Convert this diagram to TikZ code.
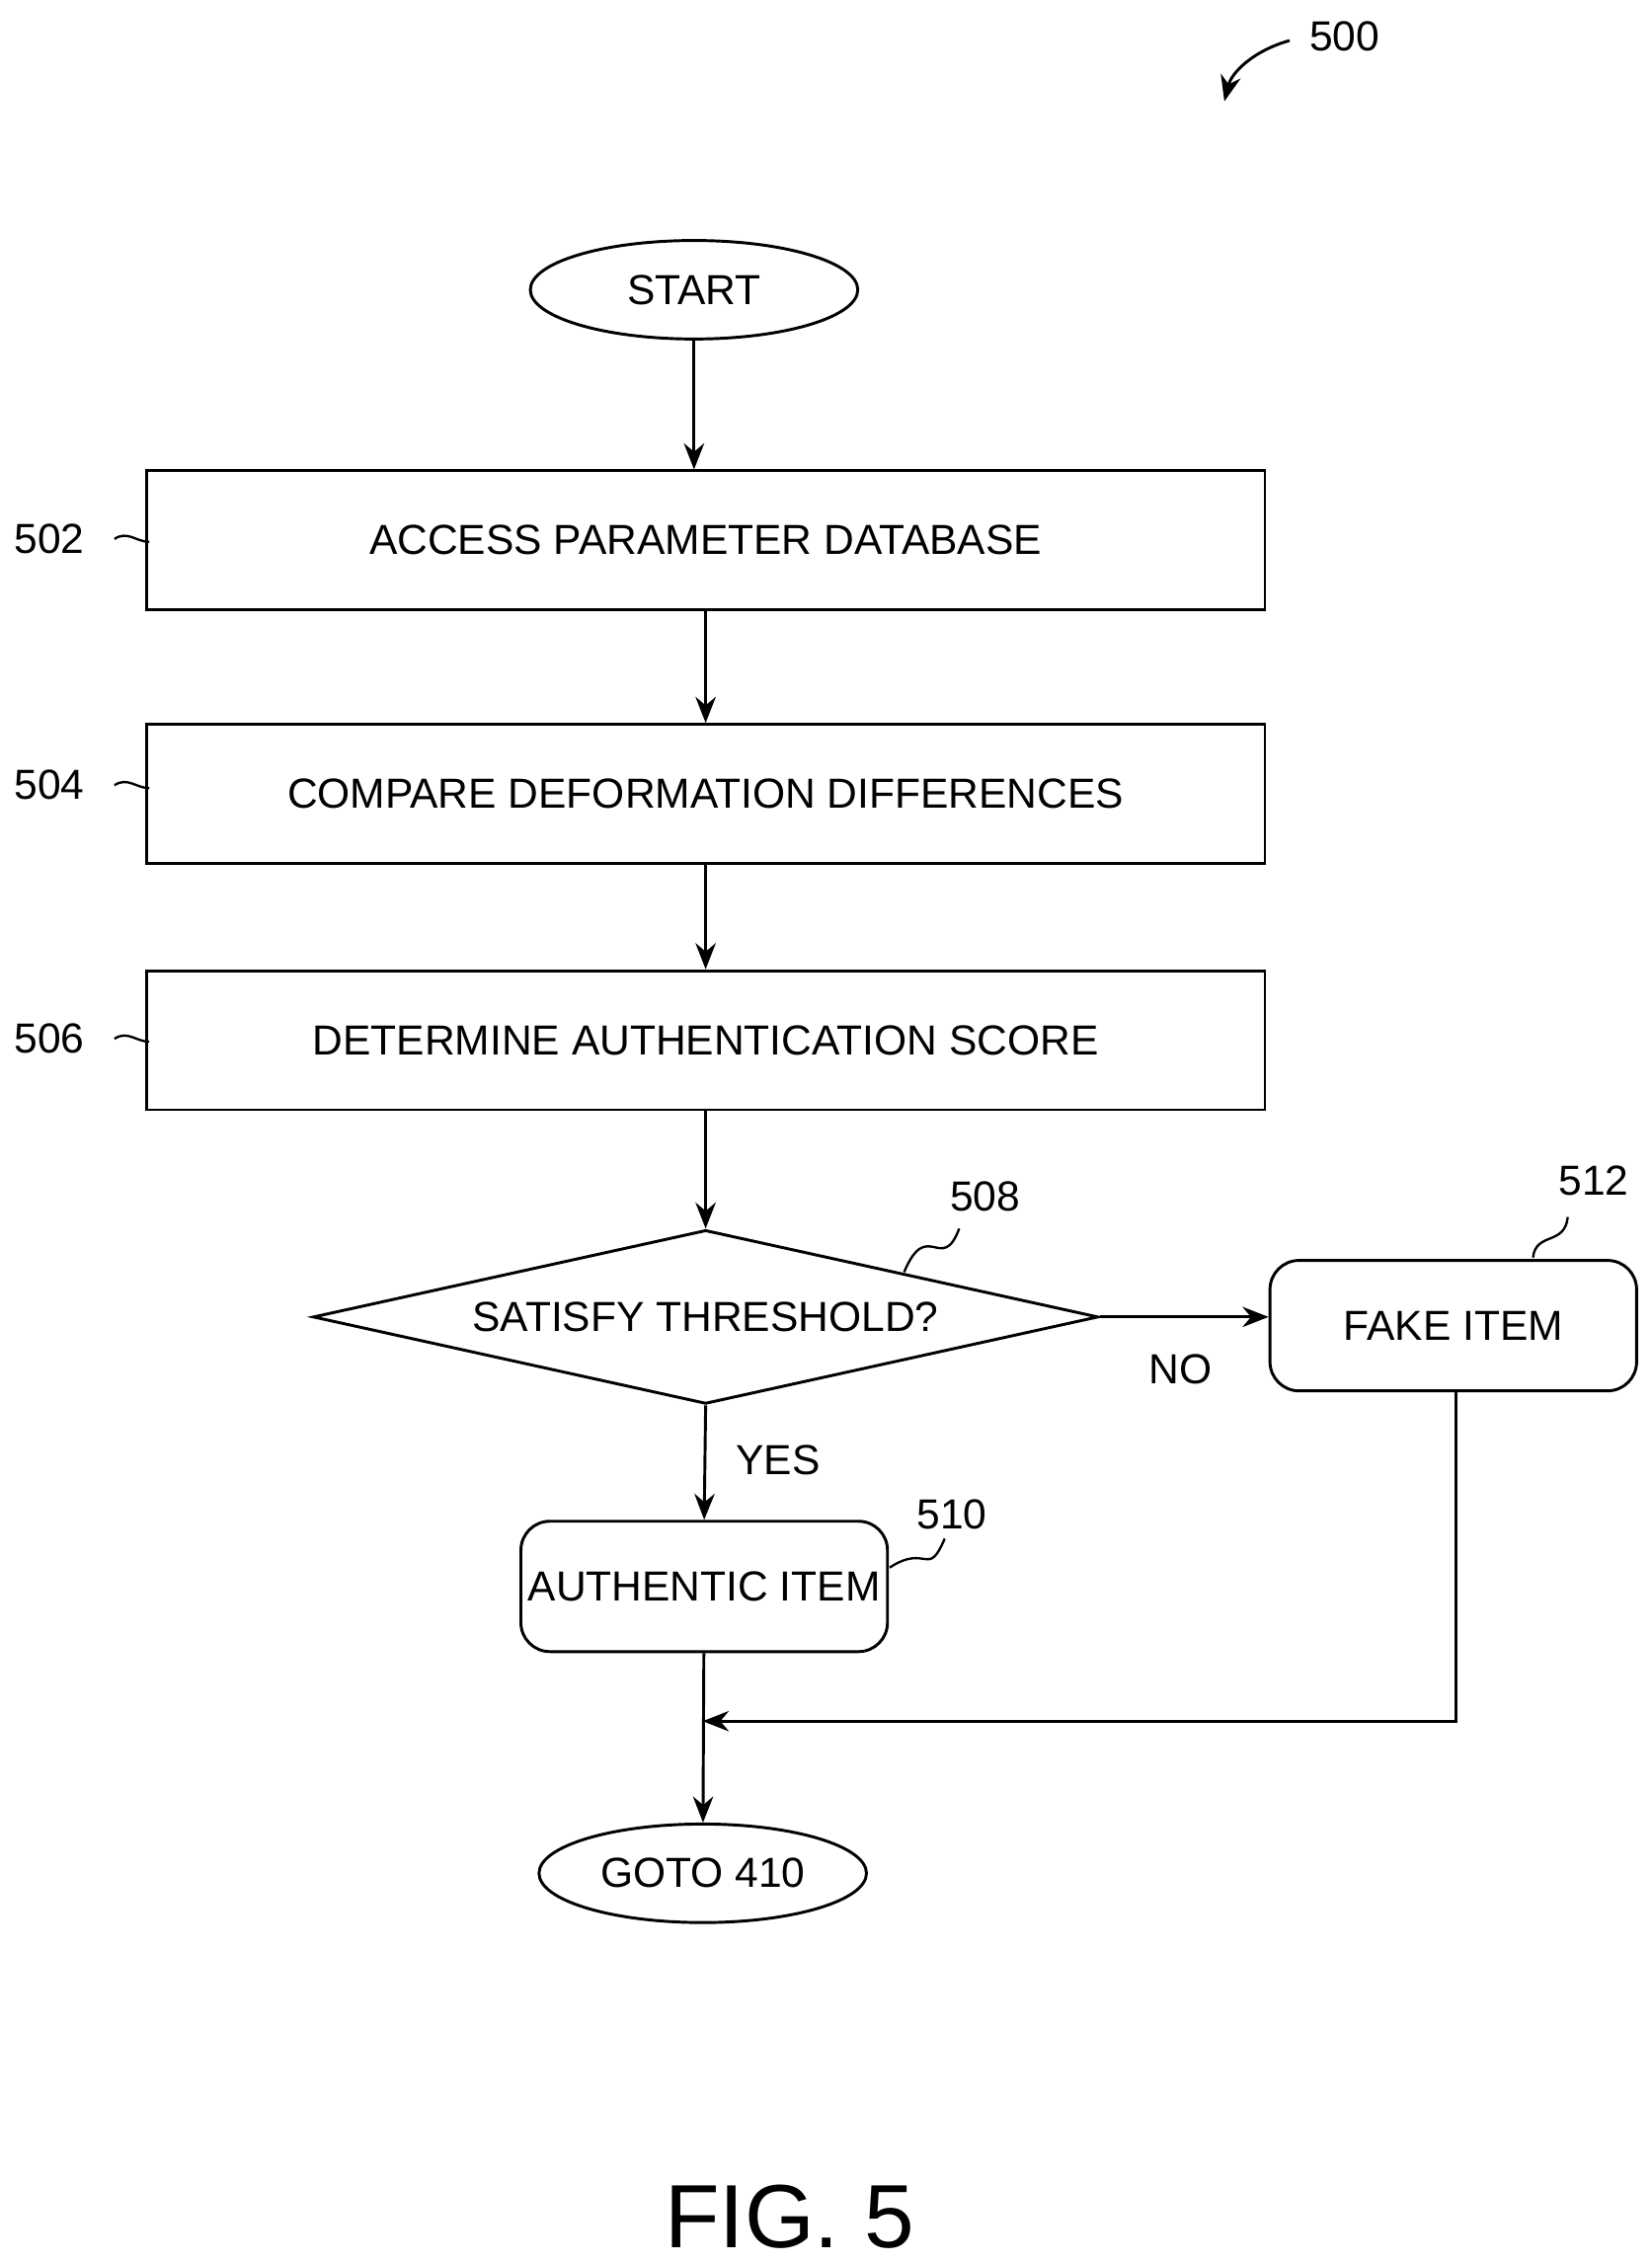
\documentclass[tikz,border=0pt]{standalone}
\usepackage{fontspec}
\setmainfont{Liberation Sans}
\usetikzlibrary{shapes.geometric,arrows.meta}
\begin{document}
\begin{tikzpicture}[x=0.5pt,y=-0.5pt,
  every node/.style={font=\fontsize{14.5}{16}\selectfont},
  box/.style={draw,line width=1pt,minimum width=386pt,minimum height=48pt,inner sep=0pt},
  rbox/.style={draw,line width=1pt,rounded corners=10pt,minimum width=126.5pt,minimum height=45pt,inner sep=0pt},
  oval/.style={draw,ellipse,line width=1pt,minimum width=113pt,minimum height=34pt,inner sep=0pt},
  arr/.style={line width=1pt,-{Stealth[length=9pt,width=7pt]}},
  lead/.style={line width=0.8pt}]
\useasboundingbox (0,0) rectangle (1140,1562);
\node[oval] (start) at (479,200) {START};
\node[box] (b502) at (487,373) {ACCESS PARAMETER DATABASE};
\node[box] (b504) at (487,548) {COMPARE DEFORMATION DIFFERENCES};
\node[box] (b506) at (487,718) {DETERMINE AUTHENTICATION SCORE};
\node[draw,diamond,aspect=4.5,line width=1pt,minimum width=271pt,minimum height=60pt,inner sep=0pt] (d508) at (487,909) {SATISFY THRESHOLD?};
\node[rbox] (fake) at (1003,915) {FAKE ITEM};
\node[rbox] (auth) at (486,1095) {AUTHENTIC ITEM};
\node[oval] (goto) at (485,1293) {GOTO 410};
\coordinate (corner) at (1005,1188);
\coordinate (join) at (485,1188);
\draw[arr] (start) -- (start|-b502.north);
\draw[arr] (b502) -- (b504);
\draw[arr] (b504) -- (b506);
\draw[arr] (b506) -- (d508);
\draw[arr] (d508.east) -- (fake.west|-d508.east);
\draw[arr] (d508.south) -- (auth.north);
\draw[arr] (auth) -- (goto);
\draw[arr] (fake.south-|corner) -- (corner) -- (join);
\node (no) at (815,945) {NO};
\node (yes) at (537,1008) {YES};
\node (l500) at (928,25) {500};
\node (l502) at (34,372) {502};
\node (l504) at (34,542) {504};
\node (l506) at (34,717) {506};
\node (l508) at (680,826) {508};
\node (l510) at (657,1045) {510};
\node (l512) at (1100,815) {512};
\draw[arr] (890,28) .. controls (865,35) and (850,50) .. (845,70);
\foreach \y in {372,542,717}
  \draw[lead] (79,\y) .. controls (88,\y-6) and (94,\y+2) .. (103,\y+2);
\draw[lead] (624,878) .. controls (640,840) and (650,880) .. (662,848);
\draw[lead] (614,1082) .. controls (640,1065) and (640,1090) .. (652,1062);
\draw[lead] (1058,868) .. controls (1060,850) and (1080,860) .. (1082,840);
\node (fig) at (545,1530) {\fontsize{31}{34}\selectfont FIG. 5};
\end{tikzpicture}
\end{document}
